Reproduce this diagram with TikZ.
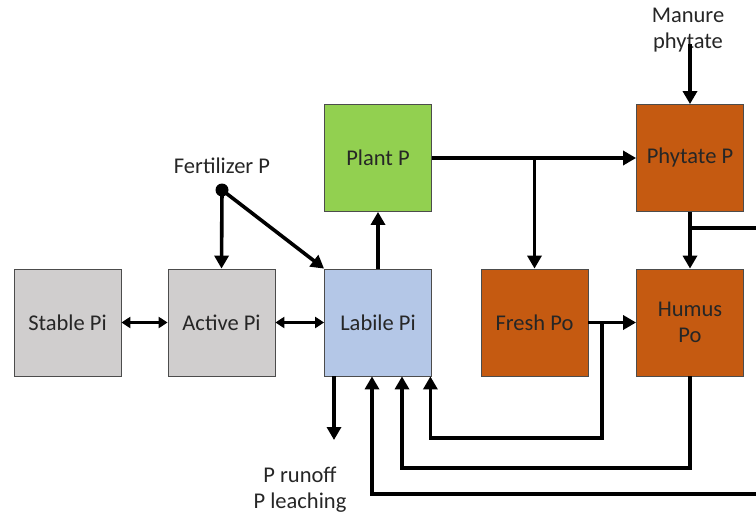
\documentclass[tikz,border=0pt]{standalone}
\usepackage{fontspec}
\setmainfont{Carlito}
\usetikzlibrary{arrows.meta,calc}

\definecolor{stonegray}{HTML}{D0CECE}
\definecolor{labileblue}{HTML}{B4C7E7}
\definecolor{plantgreen}{HTML}{92D050}
\definecolor{organic}{HTML}{C55A11}
\definecolor{inkgray}{HTML}{262626}

\begin{document}
\begin{tikzpicture}[x=1pt,y=-1pt]
\tikzstyle{every node}+=[font=\fontsize{22.5}{26}\selectfont,text=inkgray]
\tikzstyle{pool}=[draw=black!70,line width=0.8pt,minimum width=107pt,minimum height=107pt,align=center,inner sep=0pt]
\tikzstyle{flow}=[line width=3.6pt,-{Triangle[length=13pt,width=14pt]}]
\tikzstyle{swap}=[line width=3.6pt,{Triangle[length=9pt,width=11pt]}-{Triangle[length=9pt,width=11pt]}]
\tikzstyle{pipe}=[line width=3.6pt]
\useasboundingbox (0,0) rectangle (756,514);
% pools
\node [pool,fill=stonegray] (stable) at (67.5,322.5) {Stable Pi};
\node [pool,fill=stonegray] (active) at (221.5,322.5) {Active Pi};
\node [pool,fill=labileblue] (labile) at (378,322.5) {Labile Pi};
\node [pool,fill=plantgreen] (plant) at (378,158) {Plant P};
\node [pool,fill=organic] (fresh) at (534.5,322.5) {Fresh Po};
\node [pool,fill=organic] (humus) at (690,322.5) {Humus\\Po};
\node [pool,fill=organic] (phytate) at (690,158) {Phytate P};
% inputs and outputs
\node (fert) at (222,166) {Fertilizer P};
\fill (222,190) circle (6.5pt) coordinate (fdot);
\node [inner sep=0pt,align=center] (manure) at (688,30) {Manure\\phytate};
\node [inner sep=0pt,align=center] (loss) at (300,490) {P runoff\\P leaching};
\coordinate (out) at (334,440);
\coordinate (r1) at (756,228);
\coordinate (r2) at (756,494);
\coordinate (b1) at (602,438);
\coordinate (b2) at (402,468);
\coordinate (b3) at (372,494);
% exchanges
\draw [swap] (stable) -- (active);
\draw [swap] (active) -- (labile);
\draw [flow] (fdot) -- (active.north);
\draw [flow] (fdot) -- (labile.north west);
\draw [flow] (labile) -- (plant);
\draw [flow] (plant) -- (phytate);
\draw [flow] (plant.east -| fresh.north) -- (fresh.north);
\draw [flow] ([yshift=8pt]manure.south -| phytate.north) -- (phytate.north);
\draw [flow] (phytate) -- (humus);
\draw [pipe] (phytate.south |- r1) -- (r1);
\draw [flow] (fresh) -- (humus);
\draw [flow] (fresh.east -| b1) -- (b1) -| ([xshift=-1.5pt]labile.south east);
\draw [flow] (humus.south) |- (b2) -- (b2 |- labile.south);
\draw [flow] (r2) -- (b3) -- (b3 |- labile.south);
\draw [flow] (out |- labile.south) -- (out);
\end{tikzpicture}
\end{document}
